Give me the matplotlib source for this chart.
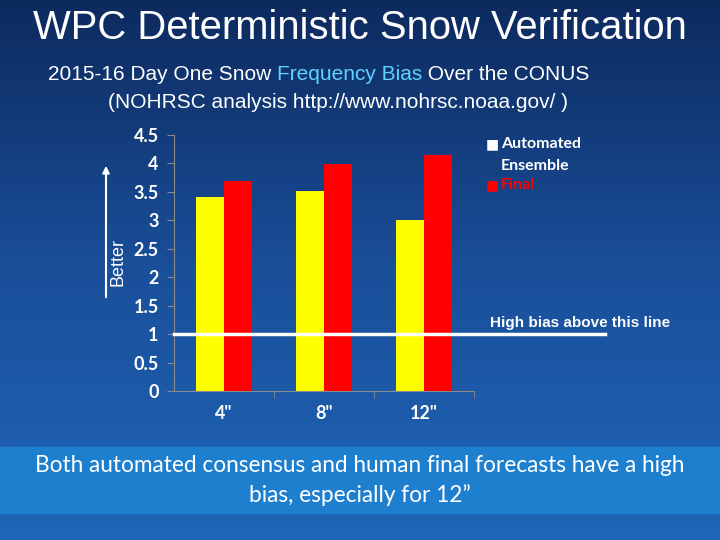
import matplotlib
matplotlib.use("Agg")
import matplotlib.pyplot as plt
import numpy as np
from matplotlib.patches import Rectangle
from matplotlib.colors import LinearSegmentedColormap

categories = ['4"', '8"', '12"']
automated = [3.41, 3.51, 3.0]
final = [3.69, 3.99, 4.15]
yticks = [0, 0.5, 1, 1.5, 2, 2.5, 3, 3.5, 4, 4.5]
ylabels = ['0', '0.5', '1', '1.5', '2', '2.5', '3', '3.5', '4', '4.5']

W, H = 720, 540
fig = plt.figure(figsize=(7.2, 5.4), dpi=100)

bg = fig.add_axes([0, 0, 1, 1])
grad = np.linspace(0, 1, 256)[:, None]
cmap = LinearSegmentedColormap.from_list("g", ["#0d2a5e", "#1a4f9a", "#1f66b8"])
bg.imshow(grad, aspect='auto', cmap=cmap, extent=[0, 1, 0, 1], origin='upper')
bg.add_patch(Rectangle((0, (H-513)/H), 1, 66/H, color="#1f7fcf", zorder=2))
bg.set_xlim(0, 1); bg.set_ylim(0, 1); bg.axis('off')

LS = 'Liberation Sans'
fig.text(0.5, 1-28/H, "WPC Deterministic Snow Verification", ha='center', va='center',
         fontsize=28.8, color='white', family=LS)

parts = [("2015-16 Day One Snow ", 'white'), ("Frequency Bias", '#5fd3ff'), (" Over the CONUS", 'white')]
fig.canvas.draw()
r = fig.canvas.get_renderer()
xpos = 48
for txt, c in parts:
    t = fig.text(xpos/W, 1-75/H, txt, ha='left', va='center', fontsize=15, color=c, family=LS)
    xpos += t.get_window_extent(renderer=r).width
fig.text(0.47, 1-103/H, "(NOHRSC analysis http://www.nohrsc.noaa.gov/ )", ha='center', va='center',
         fontsize=15, color='white', family=LS)

ax = fig.add_axes([174/W, 1-391/H, 300/W, 256/H])
ax.patch.set_alpha(0)
x = np.arange(len(categories))
w = 0.28
ax.bar(x - w/2, automated, w, color='#ffff00')
ax.bar(x + w/2, final, w, color='#ff0000')
ax.set_xlim(-0.5, 2.5)
ax.set_ylim(0, 4.5)
ax.set_yticks(yticks)
ax.set_yticklabels(ylabels)
ax.set_xticks(x)
ax.set_xticklabels(categories)
ax.set_xticks([0.5, 1.5, 2.5], minor=True)
for s in ['top', 'right']:
    ax.spines[s].set_visible(False)
for s in ['left', 'bottom']:
    ax.spines[s].set_color('#8a8a8a')
ax.tick_params(axis='y', colors='#8a8a8a', labelcolor='white', labelsize=13, length=5, pad=6)
ax.tick_params(axis='x', which='major', length=0, labelcolor='white', labelsize=13, pad=10)
ax.tick_params(axis='x', which='minor', length=5, color='#8a8a8a')
for lab in ax.get_xticklabels() + ax.get_yticklabels():
    lab.set_family('Lato'); lab.set_weight('bold')

fig.text(486/W, 1-144/H, "■", color='white', fontsize=10, va='center')
fig.text(501/W, 1-144/H, "Automated", color='white', fontsize=11.5, va='center', weight='bold',
         family='Lato')
fig.text(501/W, 1-166/H, "Ensemble", color='white', fontsize=11.5, va='center', weight='bold',
         family='Lato')
fig.text(486/W, 1-185/H, "■", color='#ff0000', fontsize=10, va='center')
fig.text(501/W, 1-185/H, "Final", color='#ff0000', fontsize=11.5, va='center', weight='bold',
         family='Lato')

ax.plot([-0.5, (605-174)/300*3 - 0.5], [1, 1], color='white', lw=2.5, clip_on=False, zorder=5)
fig.text(580/W, 1-323/H, "High bias above this line", ha='center', va='center', color='white',
         fontsize=11, weight='bold', family=LS)

bg.annotate("", xy=(106/W, 1-163/H), xytext=(106/W, 1-300/H),
            arrowprops=dict(arrowstyle='-|>', color='white', lw=1.5), zorder=5)
fig.text(118/W, 1-262/H, "Better", rotation=90, ha='center', va='center', color='white',
         fontsize=13, family=LS)

fig.text(0.5, 1-466/H, "Both automated consensus and human final forecasts have a high",
         ha='center', va='center', color='white', fontsize=16.3, family='Lato')
fig.text(0.5, 1-495/H, "bias, especially for 12\u201d", ha='center', va='center', color='white',
         fontsize=16.3, family='Lato')

fig.savefig("out.png", dpi=100)
